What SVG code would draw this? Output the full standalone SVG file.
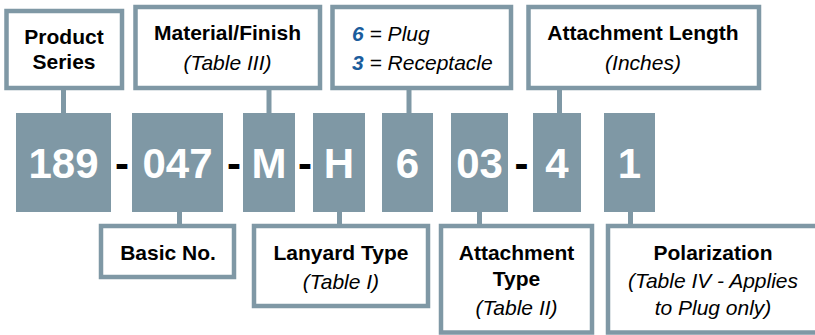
<svg xmlns="http://www.w3.org/2000/svg" width="815" height="335" viewBox="0 0 815 335">
<style>
.lbl{fill:#fff;stroke:#7f98a5;stroke-width:4.5}
.num{fill:#7f98a5}
.conn line{stroke:#7f98a5;stroke-width:5}
text{font-family:"Liberation Sans",Arial,sans-serif;font-size:21px;fill:#000;text-anchor:middle}
.b{font-weight:bold}
.i{font-style:italic}
.big{font-size:42px;font-weight:bold;fill:#fff}
.dash{font-size:42px;font-weight:bold;fill:#000}
.blue{fill:#1a5c9c;font-weight:bold}
</style>
<rect width="815" height="335" fill="#fff"/>
<g id="connectors" class="conn">
<line x1="63.5" y1="88" x2="63.5" y2="114"/>
<line x1="269" y1="88" x2="269" y2="114"/>
<line x1="409" y1="88" x2="409" y2="114"/>
<line x1="559.5" y1="88" x2="559.5" y2="114"/>
<line x1="179.5" y1="211" x2="179.5" y2="227"/>
<line x1="339.5" y1="211" x2="339.5" y2="227"/>
<line x1="479.5" y1="211" x2="479.5" y2="227"/>
<line x1="630.5" y1="211" x2="630.5" y2="227"/>
</g>
<g id="product-series">
<rect class="lbl" x="6.5" y="11" width="115.5" height="77"/>
<text class="b" x="64" y="43.5">Product</text>
<text class="b" x="64" y="69">Series</text>
</g>
<g id="material-finish">
<rect class="lbl" x="135.5" y="7" width="184.5" height="81"/>
<text class="b" x="227.5" y="40">Material/Finish</text>
<text class="i" x="227.5" y="70">(Table III)</text>
</g>
<g id="plug-receptacle">
<rect class="lbl" x="332.5" y="7" width="178.5" height="81"/>
<text x="352" y="41" style="text-anchor:start"><tspan class="blue i">6</tspan><tspan class="i"> = Plug</tspan></text>
<text x="352" y="70" style="text-anchor:start"><tspan class="blue i">3</tspan><tspan class="i"> = Receptacle</tspan></text>
</g>
<g id="attachment-length">
<rect class="lbl" x="528.5" y="7" width="230.5" height="81"/>
<text class="b" x="643" y="40">Attachment Length</text>
<text class="i" x="643" y="70">(Inches)</text>
</g>
<g id="code">
<rect class="num" x="16" y="113" width="95" height="99"/>
<text class="big" x="63.5" y="178">189</text>
<text class="dash" x="122" y="178">-</text>
<rect class="num" x="132" y="113" width="91" height="99"/>
<text class="big" x="177.5" y="178">047</text>
<text class="dash" x="234" y="178">-</text>
<rect class="num" x="243" y="113" width="52" height="99"/>
<text class="big" x="269" y="178">M</text>
<text class="dash" x="305" y="178">-</text>
<rect class="num" x="313" y="113" width="52" height="99"/>
<text class="big" x="339" y="178">H</text>
<rect class="num" x="382" y="113" width="51" height="99"/>
<text class="big" x="407.5" y="178">6</text>
<rect class="num" x="451" y="113" width="57" height="99"/>
<text class="big" x="479.5" y="178">03</text>
<text class="dash" x="521.5" y="178">-</text>
<rect class="num" x="533" y="113" width="48" height="99"/>
<text class="big" x="557" y="178">4</text>
<rect class="num" x="604" y="113" width="51" height="99"/>
<text class="big" x="629.5" y="178">1</text>
</g>
<g id="basic-no">
<rect class="lbl" x="101" y="226" width="133" height="51"/>
<text class="b" x="168" y="260">Basic No.</text>
</g>
<g id="lanyard-type">
<rect class="lbl" x="254" y="226" width="174" height="80"/>
<text class="b" x="341" y="260">Lanyard Type</text>
<text class="i" x="341" y="289">(Table I)</text>
</g>
<g id="attachment-type">
<rect class="lbl" x="441" y="226" width="151" height="106.5"/>
<text class="b" x="516.5" y="260">Attachment</text>
<text class="b" x="516.5" y="286">Type</text>
<text class="i" x="516.5" y="315">(Table II)</text>
</g>
<g id="polarization">
<rect class="lbl" x="608" y="226" width="212" height="106.5"/>
<text class="b" x="713" y="260">Polarization</text>
<text class="i" x="713" y="288">(Table IV - Applies</text>
<text class="i" x="713" y="315">to Plug only)</text>
</g>
</svg>
